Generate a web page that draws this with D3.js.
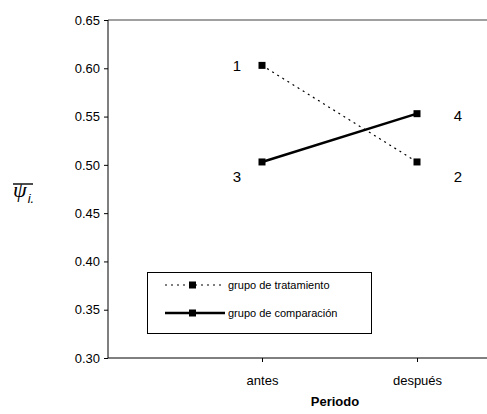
<!DOCTYPE html>
<html><head><meta charset="utf-8">
<script src="https://cdn.jsdelivr.net/npm/d3@7"></script>
<style>body{margin:0;background:#fff}svg{display:block;font-family:"Liberation Sans",Arial,sans-serif}</style>
</head><body>
<svg id="c" width="487" height="414"></svg>
<script>
const periods = ["antes", "después"];
const treatment = [0.603, 0.503];
const comparison = [0.503, 0.553];
const pointLabelsTreatment = ["1", "2"];
const pointLabelsComparison = ["3", "4"];
const yTicks = [0.30, 0.35, 0.40, 0.45, 0.50, 0.55, 0.60, 0.65];
const seriesNames = ["grupo de tratamiento", "grupo de comparación"];

(function () {
const svg = d3.select("#c");
const pL = 108, pR = 487, pT = 20, pB = 358;
const y = d3.scaleLinear().domain([0.30, 0.65]).range([pB, pT]);
const x = d3.scalePoint().domain(periods).range([262, 417]);

// top border
svg.append("line").attr("x1", pL).attr("x2", pR).attr("y1", pT).attr("y2", pT)
  .attr("stroke", "#808080").attr("stroke-width", 1.5);

// y axis
const ya = svg.append("g").attr("transform", `translate(${pL},0)`)
  .call(d3.axisLeft(y).tickValues(yTicks).tickFormat(d3.format(".2f")).tickSize(4).tickPadding(4));
ya.select(".domain").attr("stroke", "#000").attr("d", `M0,${pT}V${pB}`);
ya.selectAll("text").attr("font-size", 13).attr("fill", "#000").attr("font-family", "Liberation Sans, Arial, sans-serif");

// x axis
const xa = svg.append("g").attr("transform", `translate(0,${pB})`)
  .call(d3.axisBottom(x).tickSize(4).tickPadding(14));
xa.select(".domain").attr("stroke", "#000").attr("d", `M${pL},0H${pR}`);
xa.selectAll("text").attr("font-size", 13).attr("fill", "#000").attr("font-family", "Liberation Sans, Arial, sans-serif");

svg.append("text").attr("x", 335).attr("y", 406).attr("text-anchor", "middle")
  .attr("font-size", 13).attr("font-weight", "bold").text("Periodo");

// y label psi
const yl = svg.append("text").attr("x", 13).attr("y", 197).attr("font-family", "Liberation Serif, serif");
yl.append("tspan").attr("font-size", 22).attr("font-style", "italic").text("ψ");
yl.append("tspan").attr("font-size", 13).attr("font-style", "italic").attr("dy", 6).attr("dx", 1).attr("font-family","Liberation Sans, Arial, sans-serif").text("i.");
svg.append("line").attr("x1", 13).attr("x2", 33).attr("y1", 184).attr("y2", 184).attr("stroke", "#000").attr("stroke-width", 1.4);

const line = d3.line().x((d, i) => x(periods[i])).y(d => y(d));
svg.append("path").datum(treatment).attr("d", line).attr("fill", "none")
  .attr("stroke", "#000").attr("stroke-width", 1.2).attr("stroke-dasharray", "2,4");
svg.append("path").datum(comparison).attr("d", line).attr("fill", "none")
  .attr("stroke", "#000").attr("stroke-width", 2.5);

[treatment, comparison].forEach(s => {
  svg.selectAll(null).data(s).enter().append("rect")
    .attr("x", (d, i) => x(periods[i]) - 3.5).attr("y", d => y(d) - 3.5)
    .attr("width", 7).attr("height", 7).attr("fill", "#000");
});

// point labels
const lab = (txt, px, py) => svg.append("text").attr("x", px).attr("y", py).attr("text-anchor", "middle")
  .attr("dominant-baseline", "central").attr("font-size", 15).text(txt);
lab(pointLabelsTreatment[0], x(periods[0]) - 25, y(treatment[0]));
lab(pointLabelsTreatment[1], x(periods[1]) + 41, y(treatment[1]) + 15);
lab(pointLabelsComparison[0], x(periods[0]) - 25, y(comparison[0]) + 15);
lab(pointLabelsComparison[1], x(periods[1]) + 41, y(comparison[1]) + 2);

// legend
const lg = svg.append("g");
lg.append("rect").attr("x", 147.5).attr("y", 272.5).attr("width", 224).attr("height", 61)
  .attr("fill", "#fff").attr("stroke", "#000").attr("stroke-width", 1);
const rows = [{y: 285, dash: "2,4", w: 1.2}, {y: 313, dash: null, w: 2.5}];
rows.forEach((r, i) => {
  const l = lg.append("line").attr("x1", 165).attr("x2", 225).attr("y1", r.y).attr("y2", r.y)
    .attr("stroke", "#000").attr("stroke-width", r.w);
  if (r.dash) l.attr("stroke-dasharray", r.dash);
  lg.append("rect").attr("x", 189).attr("y", r.y - 3.5).attr("width", 7).attr("height", 7).attr("fill", "#000");
  lg.append("text").attr("x", 228).attr("y", r.y).attr("dominant-baseline", "central")
    .attr("font-size", 11).text(seriesNames[i]);
});
})();
</script>
</body></html>
